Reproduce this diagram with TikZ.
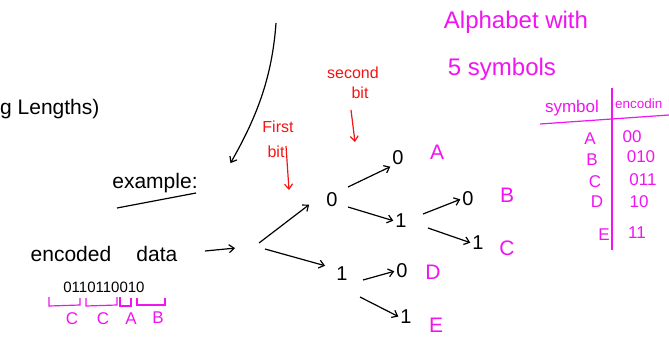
\documentclass[tikz,border=0pt]{standalone}
\usepackage{fontspec}
\setmainfont{Liberation Sans}
\usetikzlibrary{arrows.meta}
\definecolor{mag}{RGB}{240,20,240}
\definecolor{rd}{RGB}{245,20,20}
\begin{document}
\begin{tikzpicture}[x=1pt,y=-1pt,
  txt/.style={inner sep=0pt,font=\fontsize{21}{24}\selectfont},
  lbl/.style={inner sep=0pt,text=mag,font=\fontsize{21}{24}\selectfont},
  big/.style={inner sep=0pt,text=mag,font=\fontsize{24}{26}\selectfont},
  small/.style={inner sep=0pt,text=mag,font=\fontsize{17}{19}\selectfont},
  bitn/.style={inner sep=1pt,font=\fontsize{20}{22}\selectfont},
  redt/.style={inner sep=0pt,text=rd,font=\fontsize{16}{18}\selectfont},
  arr/.style={line width=1.2pt,shorten >=1pt,-{Straight Barb[length=5pt,width=8pt]}},
  rarr/.style={line width=1.2pt,draw=rd,-{Straight Barb[length=5pt,width=8pt]}},
  mline/.style={line width=1.2pt,draw=mag}]
\useasboundingbox (0,0) rectangle (669,348);
% left texts
\node[txt,anchor=west] (len) at (0,109) {g Lengths)};
\coordinate (ltop) at (276,23);
\coordinate (lbot) at (230,164);
\draw[arr] (ltop) .. controls (272,80) and (255,120) .. (lbot);
\node[txt] (ex) at (155,183) {example:};
\coordinate (ul1) at (117,208);
\coordinate (ul2) at (196,193);
\draw[line width=1.2pt] (ul1) -- (ul2);
% first / second bit
\node[redt] (fb1) at (278,127) {First};
\node[redt] (fb2) at (276,152) {bit};
\coordinate (fbs) at (286,146);
\coordinate (fbe) at (289,190);
\draw[rarr] (fbs) -- (fbe);
\node[redt] (sb1) at (353,73) {second};
\node[redt] (sb2) at (360,93) {bit};
\coordinate (sbs) at (351,110);
\coordinate (sbe) at (355,142);
\draw[rarr] (sbs) -- (sbe);
% encoded data
\node[txt] (data) at (104,254) {encoded\hspace{1.2em}data};
\coordinate (da1) at (205,251);
\coordinate (da2) at (236,248);
\draw[arr] (da1) -- (da2);
\node[inner sep=0pt,font=\fontsize{15}{17}\selectfont] (bits) at (104,287) {0110110010};
% brackets
\draw[mline] (49,297) -- (49,306) -- (80,305) -- (80,298);
\draw[mline] (86,298) -- (86,306) -- (117,305) -- (117,297);
\draw[mline] (120,297) -- (120,306) -- (131,306) -- (131,298);
\draw[mline] (137,298) -- (137,305) -- (165,305) -- (165,298);
\node[small] (bc1) at (72,319) {C};
\node[small] (bc2) at (103,319) {C};
\node[small] (ba) at (131,319) {A};
\node[small] (bb) at (158,318) {B};
% tree
\coordinate (root) at (259,243);
\coordinate (root2) at (265,249);
\node[bitn] (n0) at (332,200) {0};
\node[bitn] (n1) at (342,274) {1};
\node[bitn] (n00) at (398,158) {0};
\node[bitn] (n01) at (401,221) {1};
\node[bitn] (n010) at (468,199) {0};
\node[bitn] (n011) at (478,243) {1};
\node[bitn] (n10) at (402,271) {0};
\node[bitn] (n11) at (406,317) {1};
\coordinate (n1a) at (363,280);
\coordinate (n1b) at (360,297);
\draw[arr] (root) -- (310,204);
\draw[arr] (root2) -- (326,266);
\draw[arr] (348,187) -- (n00.south west);
\draw[arr] (348,207) -- (n01.west);
\draw[arr] (423,214) -- (n010.west);
\draw[arr] (428,228) -- (n011.west);
\draw[arr] (n1a) -- (n10.west);
\draw[arr] (n1b) -- (n11.west);
\node[lbl] (la) at (437,152) {A};
\node[lbl] (lb) at (507,195) {B};
\node[lbl] (lc) at (507,248) {C};
\node[lbl] (ld) at (433,272) {D};
\node[lbl] (le) at (436,325) {E};
% alphabet
\node[big] (alph) at (516,22) {Alphabet with};
\node[big] (five) at (502,69) {5 symbols};
% table
\coordinate (vt) at (612,88);
\coordinate (vb) at (612,250);
\draw[mline] (vt) -- (vb);
\coordinate (hl) at (540,124);
\coordinate (hr) at (669,115);
\draw[mline] (hl) -- (hr);
\node[small] (hs) at (572,108) {symbol};
\node[inner sep=0pt,text=mag,font=\fontsize{13.5}{15}\selectfont,anchor=west] (he) at (615,104) {encodin};
\node[small] (ra) at (590,139) {A};
\node[small] (rb) at (592,160) {B};
\node[small] (rc) at (595,182) {C};
\node[small] (rd) at (597,202) {D};
\node[small] (re) at (604,235) {E};
\node[small] (va) at (632,137) {00};
\node[small] (vb2) at (641,157) {010};
\node[small] (vc) at (643,180) {011};
\node[small] (vd) at (639,202) {10};
\node[small] (ve) at (637,233) {11};
\end{tikzpicture}
\end{document}
